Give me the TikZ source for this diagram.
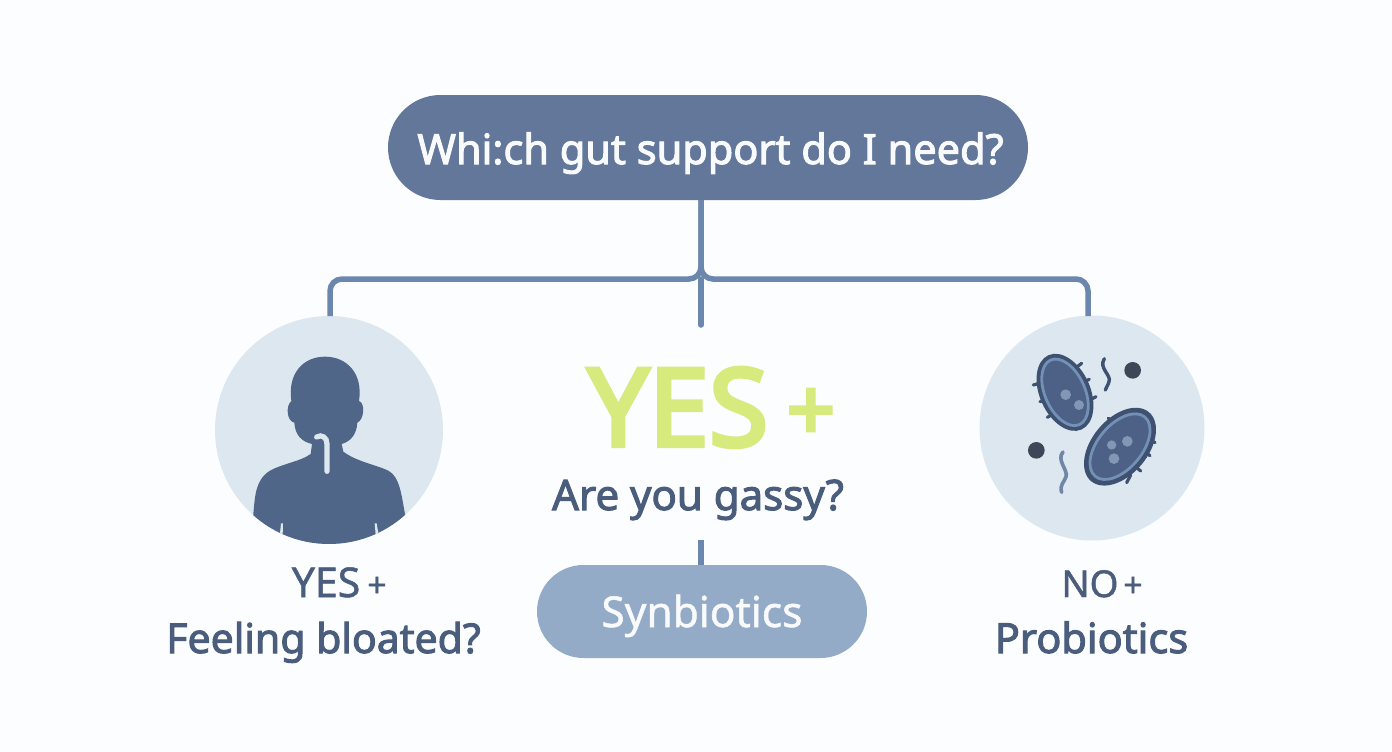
\documentclass[tikz,border=0pt]{standalone}
\usepackage{fontspec}
\setmainfont{Noto Sans}
\newfontfamily\medf{Noto Sans}[FakeBold=1.2]
\newfontfamily\boldf{Noto Sans}[FakeBold=2.4]
\newfontfamily\heavyf{Noto Sans}[FakeBold=4]
\usetikzlibrary{shapes.misc}
\definecolor{bgc}{HTML}{FCFDFE}
\definecolor{pilltop}{HTML}{63779A}
\definecolor{conn}{HTML}{6C87AD}
\definecolor{disc}{HTML}{DDE7F0}
\definecolor{person}{HTML}{4F6689}
\definecolor{lime}{HTML}{D6EA7E}
\definecolor{ink}{HTML}{4A5D7D}
\definecolor{soft}{HTML}{94ABC8}
\definecolor{bacd}{HTML}{3F5170}
\definecolor{bacf}{HTML}{4C6185}
\definecolor{bacr}{HTML}{7390B5}
\definecolor{blob}{HTML}{8098B5}
\definecolor{dotc}{HTML}{3F4658}
\definecolor{paper}{HTML}{F8FAFC}
\tikzset{
  pillbox/.style={rounded rectangle,inner sep=0pt},
  disco/.style={circle,fill=disc,inner sep=0pt},
  linkline/.style={draw=conn,line width=5.5pt},
  lab/.style={anchor=base,text=ink,inner sep=0pt},
  spike/.style={draw=bacd,line width=3.2pt,line cap=round},
}
\begin{document}
\begin{tikzpicture}[x=1pt,y=-1pt]
\useasboundingbox[fill=bgc] (0,0) rectangle (1392,752);
\coordinate (stem) at (701,200);
\coordinate (bar) at (701,279);
\coordinate (midend) at (701,325);
\coordinate (midtop) at (701,279);
\coordinate (lowtop) at (701,540);
\node[disco,minimum size=228pt] (leftc) at (329,430) {};
\node[disco,minimum size=225pt] (rightc) at (1092,428) {};
\node[pillbox,fill=pilltop,minimum width=640pt,minimum height=105pt] (top) at (708,147.5) {};
\node[pillbox,fill=soft,minimum width=330pt,minimum height=93pt] (syn) at (702,611.5) {};
\node[lab,text=paper,font=\boldf\fontsize{41.5}{41.5}\selectfont] (toptext) at (710.5,164) {Whi:ch gut support do I need?};
\node[lab,text=paper,font=\medf\fontsize{42.5}{42.5}\selectfont] (syntext) at (702,627) {Synbiotics};
\coordinate (lefttop) at (330,316);
\coordinate (righttop) at (1088,316);
\draw[linkline,rounded corners=12pt] (stem) |- (lefttop |- bar) -- (lefttop);
\draw[linkline,rounded corners=12pt] (stem) |- (righttop |- bar) -- (righttop);
\draw[linkline,line cap=round] (midtop) -- (midend);
\draw[linkline] (lowtop) -- (syn.north -| lowtop);
% person
\begin{scope}[shift={(200,310)},x=0.33333pt,y=-0.33333pt]
\begin{scope}
\clip (387,360) circle (342);
\fill[person] (160,612) .. controls (165,560) and (165,510) .. (210,482)
  .. controls (250,460) and (300,455) .. (332,432) -- (336,402)
  .. controls (305,395) and (285,375) .. (283,338)
  .. controls (262,335) and (255,290) .. (274,273)
  .. controls (262,190) and (310,140) .. (375,140)
  .. controls (440,140) and (490,190) .. (477,273)
  .. controls (497,280) and (492,330) .. (472,338)
  .. controls (470,375) and (450,395) .. (425,402) -- (430,425)
  .. controls (470,455) and (530,465) .. (565,482)
  .. controls (600,500) and (605,560) .. (615,612)
  -- (615,720) -- (160,720) -- cycle;
\end{scope}
\fill[disc] (243,640) -- (249,640) -- (248,674) -- (240,670) -- cycle;
\fill[disc] (524,640) -- (530,640) -- (535,670) -- (527,674) -- cycle;
\draw[disc,line width=5.2pt,line cap=round] (381,484) -- (381,402) .. controls (381,382) and (365,372) .. (350,381);
\end{scope}
% bacteria and dots
\begin{scope}[shift={(970,310)},x=0.33333pt,y=-0.33333pt]
\foreach \a/\b/\c/\d in {190/225/225/215,210/275/240/268,232/322/262/305,335/160/315/175,358/208/330/220,378/260/350/275,415/325/440/348,387/370/412/390,357/415/385/432,470/518/482/495,512/483/490/465,540/437/515/420,555/398/530/382}
  \draw[spike] (\a,\b) -- (\c,\d);
\fill[bacd,rotate around={-66:(285,247)}] (285,247) ellipse (122 and 76);
\fill[bacf,rotate around={-66:(285,247)}] (285,247) ellipse (106 and 60);
\draw[bacr,line width=2.8pt,rotate around={-66:(285,247)}] (285,247) ellipse (106 and 60);
\fill[bacd,rotate around={50:(450,410)}] (450,410) ellipse (135 and 84);
\fill[bacf,rotate around={50:(450,410)}] (450,410) ellipse (116 and 66);
\draw[bacr,line width=2.8pt,rotate around={50:(450,410)}] (450,410) ellipse (116 and 66);
\fill[blob] (287,254) circle (16);
\fill[blob] (327,285) circle (15);
\fill[blob] (425,405) circle (14);
\fill[blob] (472,394) circle (16);
\fill[blob] (432,446) circle (16);
\fill[dotc] (488,181) circle (25);
\fill[dotc] (199,421) circle (25);
\draw[bacd,line width=3.4pt,line cap=round] (403,146) .. controls (385,175) and (425,195) .. (417,215) .. controls (413,228) and (408,232) .. (406,240);
\draw[conn!85!gray,line width=3.6pt,line cap=round] (279,426) .. controls (258,450) and (295,480) .. (288,500) .. controls (282,518) and (268,525) .. (275,547);
\end{scope}
% text
\node[lab,font=\heavyf\fontsize{108}{108}\selectfont,text=lime] (yesbig) at (678,446) {YES};
\node[lab,font=\heavyf\fontsize{85}{85}\selectfont,text=lime] (plusbig) at (811,440) {+};
\node[lab,font=\boldf\fontsize{42}{42}\selectfont] (gassy) at (698,510) {Are you gassy?};
\node[lab,font=\medf\fontsize{41}{41}\selectfont] (yessm) at (326,597) {YES};
\node[lab,font=\medf\fontsize{34}{34}\selectfont] (plusl) at (377,597) {+};
\node[lab,font=\boldf\fontsize{41}{41}\selectfont] (bloat) at (323.5,653) {Feeling bloated?};
\node[lab,font=\medf\fontsize{37}{37}\selectfont] (nosm) at (1090,597) {NO};
\node[lab,font=\medf\fontsize{34}{34}\selectfont] (plusr) at (1133,597) {+};
\node[lab,font=\boldf\fontsize{41.5}{41.5}\selectfont] (prob) at (1091.5,653) {Probiotics};
\end{tikzpicture}
\end{document}
